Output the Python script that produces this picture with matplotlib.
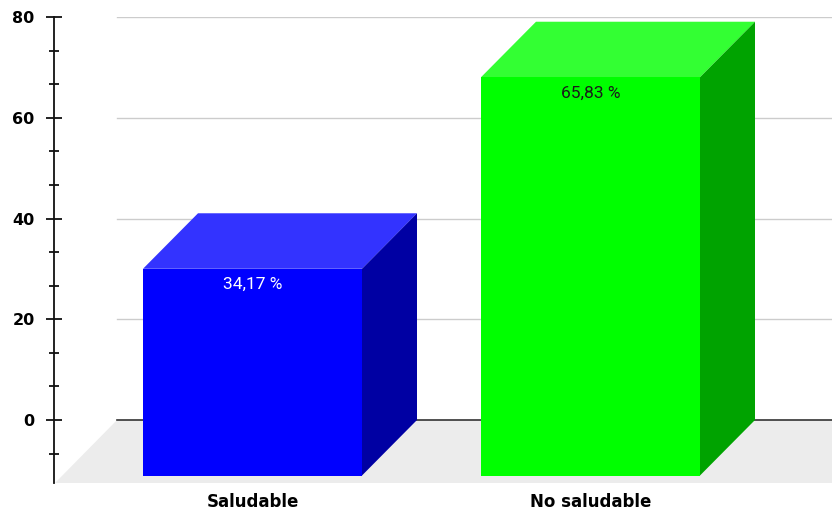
import matplotlib
matplotlib.use("Agg")
import matplotlib.pyplot as plt
from matplotlib.ticker import MultipleLocator

categories = ["Saludable", "No saludable"]
values = [34.17, 65.83]
front_colors = ["#0000FF", "#00FF00"]
top_colors = ["#3333FF", "#33FF33"]
side_colors = ["#0000A3", "#00A300"]
label_colors = ["#FFFFFF", "#1A1A1A"]
yticks = [0, 20, 40, 60, 80]

W, H = 832, 512
fig = plt.figure(figsize=(W / 100, H / 100), dpi=100)
left_px, right_px, top_px, bottom_px = 54, 832, 17, 483
ax = fig.add_axes([left_px / W, (H - bottom_px) / H,
                   (right_px - left_px) / W, (bottom_px - top_px) / H])

# x scale: categories 338 px apart
px_per_x = 338.0
x0 = -198.5 / px_per_x
ax.set_xlim(x0, x0 + (right_px - left_px) / px_per_x)
ax.set_ylim(-12.5, 80)

for s in ["top", "right", "bottom"]:
    ax.spines[s].set_visible(False)
ax.spines["left"].set_color("#111111")
ax.spines["left"].set_linewidth(1.3)
ax.set_yticks(yticks)
ax.yaxis.set_minor_locator(MultipleLocator(20 / 3))
ax.tick_params(axis="y", which="major", direction="inout", length=12, width=1.3,
               color="#111111", pad=8)
ax.tick_params(axis="y", which="minor", direction="inout", length=6.5, width=1.3,
               color="#111111")
for lab in ax.get_yticklabels():
    lab.set_fontfamily("DejaVu Sans")
    lab.set_fontweight("bold")
    lab.set_fontsize(11.5)
    lab.set_color("#000000")

ax.set_xticks(range(len(categories)))
ax.set_xticklabels(categories, fontfamily="DejaVu Sans", fontweight="bold",
                   fontsize=12, color="#000000")
ax.tick_params(axis="x", length=0, pad=7)

# floor
fdx = 62 / px_per_x
gx = (117 - left_px) / px_per_x + x0
ylo = -12.5
xr = x0 + (right_px - left_px) / px_per_x + fdx
ax.fill([gx, xr, xr - fdx, gx - fdx], [0, 0, ylo, ylo], color="#ECECEC",
        zorder=0.5, lw=0)
# gridlines
for t in yticks[1:]:
    ax.plot([gx, xr], [t, t], color="#CCCCCC", lw=1.0, zorder=0.8)
ax.plot([gx, xr], [0, 0], color="#333333", lw=1.2, zorder=0.9)

# bars on twin axis with their own scale
ax2 = ax.twinx()
px_per_v = 6.05
ax2.set_ylim(-(bottom_px - 420) / px_per_v, (420 - top_px) / px_per_v)
ax2.set_yticks([])
for s in ax2.spines.values():
    s.set_visible(False)
ax2.patch.set_visible(False)

w = 219 / px_per_x
dx = 55 / px_per_x
dy = 55.5 / px_per_v
for i, v in enumerate(values):
    xl, xrr = i - w / 2, i + w / 2
    fb, ft = -dy, v - dy
    # top face
    ax2.fill([xl, xrr, xrr + dx, xl + dx], [ft, ft, v, v], color=top_colors[i], lw=0, zorder=3)
    # side face
    ax2.fill([xrr, xrr + dx, xrr + dx, xrr], [fb, 0, v, ft], color=side_colors[i], lw=0, zorder=3)
    # front face
    ax2.fill([xl, xrr, xrr, xl], [fb, fb, ft, ft], color=front_colors[i], lw=0, zorder=4)
    lbl = f"{v:.2f}".replace(".", ",") + " %"
    ax2.annotate(lbl, (i, ft), xytext=(0, -6), textcoords="offset points",
                 ha="center", va="top", fontfamily="Roboto", fontsize=12.5,
                 color=label_colors[i], zorder=5)

fig.savefig("out.png", dpi=100)
